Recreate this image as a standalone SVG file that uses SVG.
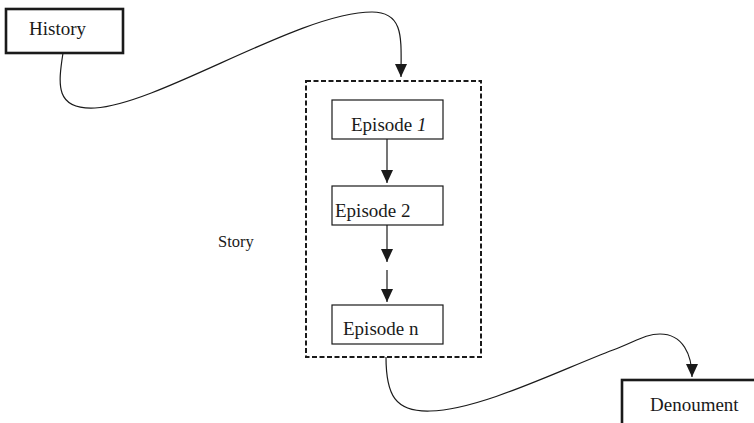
<svg xmlns="http://www.w3.org/2000/svg" width="754" height="423" viewBox="0 0 754 423">
  <style>
    text { font-family: "Liberation Serif", "Times New Roman", serif; fill: #1a1a1a; }
    .lbl { font-size: 19px; }
    .thick { fill: #fff; stroke: #1a1a1a; stroke-width: 2.6; }
    .ep { fill: #fff; stroke: #1a1a1a; stroke-width: 1.2; }
    .frame { fill: none; stroke: #1a1a1a; stroke-width: 2; stroke-dasharray: 5 2.5; }
    .link { fill: none; stroke: #1a1a1a; stroke-width: 1.2; }
  </style>
  <defs>
    <marker id="head" markerUnits="userSpaceOnUse" markerWidth="13" markerHeight="12" refX="13" refY="6" orient="auto">
      <path d="M0,0 L13,6 L0,12 z" fill="#1a1a1a"/>
    </marker>
  </defs>

  <rect width="754" height="423" fill="#fff"/>

  <g id="story-frame">
    <rect class="frame" x="306" y="81" width="175" height="276"/>
  </g>

  <g id="history">
    <rect class="thick" x="6" y="9" width="117" height="44"/>
    <text class="lbl" x="57.5" y="35" text-anchor="middle">History</text>
  </g>

  <g id="episode-1">
    <rect class="ep" x="332" y="100" width="111" height="39"/>
    <text class="lbl" x="351" y="131">Episode <tspan font-style="italic">1</tspan></text>
  </g>

  <g id="episode-2">
    <rect class="ep" x="332" y="186" width="111" height="39"/>
    <text class="lbl" x="335" y="217">Episode 2</text>
  </g>

  <g id="episode-n">
    <rect class="ep" x="332" y="305" width="111" height="39"/>
    <text class="lbl" x="343" y="335">Episode n</text>
  </g>

  <g id="story-label">
    <text x="218" y="247" font-size="16.5">Story</text>
  </g>

  <g id="denoument">
    <rect class="thick" x="622" y="380" width="150" height="60"/>
    <text class="lbl" x="650" y="411">Denoument</text>
  </g>

  <g id="connectors">
    <path class="link" d="M63,53 C58,85 55,110 95,108 C160,104 300,12 372,12 C405,12 401,40 401,77" marker-end="url(#head)"/>
    <path class="link" d="M387,139 L387,183" marker-end="url(#head)"/>
    <path class="link" d="M387,225 L387,262" marker-end="url(#head)"/>
    <path class="link" d="M387,270 L387,302" marker-end="url(#head)"/>
    <path class="link" d="M386,357 C386,395 395,412 430,411 C480,410 560,370 613,350 C635,342 645,334 660,334 C683,334 692,355 692,377" marker-end="url(#head)"/>
  </g>
</svg>
